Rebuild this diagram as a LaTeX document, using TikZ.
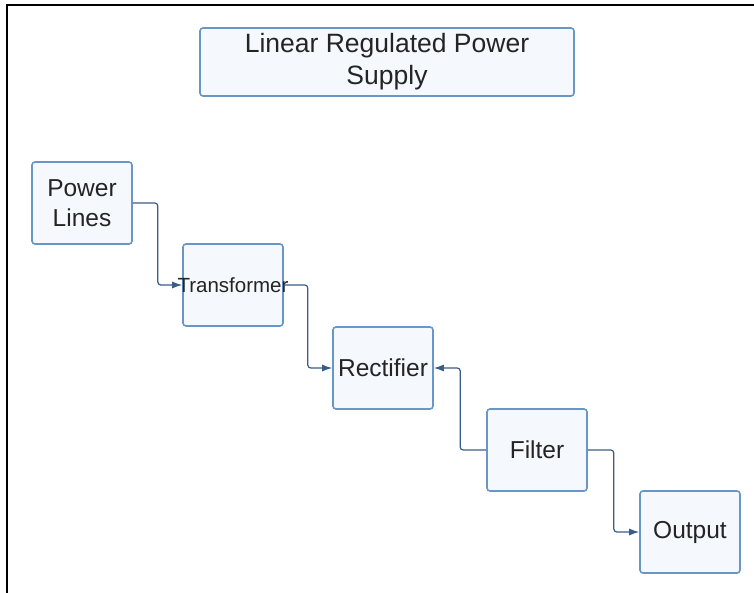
\documentclass[tikz,border=0pt]{standalone}
\usepackage{fontspec}
\setmainfont{Liberation Sans}
\usepackage{tikz}
\usetikzlibrary{arrows.meta}
\definecolor{boxline}{RGB}{104,150,198}
\definecolor{boxfill}{RGB}{245,249,254}
\definecolor{wire}{RGB}{58,92,136}
\definecolor{ink}{RGB}{36,36,36}

\begin{document}
\begin{tikzpicture}
          [
            x=1pt,y=-1pt,
            block/.style={draw=boxline,line width=1.6pt,fill=boxfill,rounded corners=3pt,
              minimum width=100pt,minimum height=82pt,inner sep=0pt,align=center,
              text=ink,font=\fontsize{24.5}{30}\selectfont},
            wire/.style={draw=wire,line width=1.2pt,->,>={Latex[length=10pt,width=7pt]},rounded corners=3pt}
          ]
          \useasboundingbox (0,0) rectangle (754,593);
          % frame
          \draw [line width=2pt] (7,593) -- (7,5) -- (754,5);
          % title
          \node [block,minimum width=374pt,minimum height=68pt,
            font=\fontsize{26.5}{32}\selectfont] (title) at (387,62)
            {Linear Regulated Power\\Supply};
          % blocks
          \node [block] (powerlines) at (82,203) {Power\\Lines};
          \node [block,font=\fontsize{20.5}{24}\selectfont] (transformer) at (233,285)
            {\makebox[90pt]{Transformer}};
          \node [block] (rectifier) at (383,368) {Rectifier};
          \node [block] (filter) at (537,450) {Filter};
          \node [block] (output) at (690,532) {Output};
          % wires
          \draw [wire] (powerlines.east) -- ++(25,0) |- (transformer.west);
          \draw [wire] (transformer.east) -- ++(24,0) |- (rectifier.west);
          \draw [wire] (filter.west) -- ++(-26,0) |- (rectifier.east);
          \draw [wire] (filter.east) -- ++(26,0) |- (output.west);
        \end{tikzpicture}
\end{document}
